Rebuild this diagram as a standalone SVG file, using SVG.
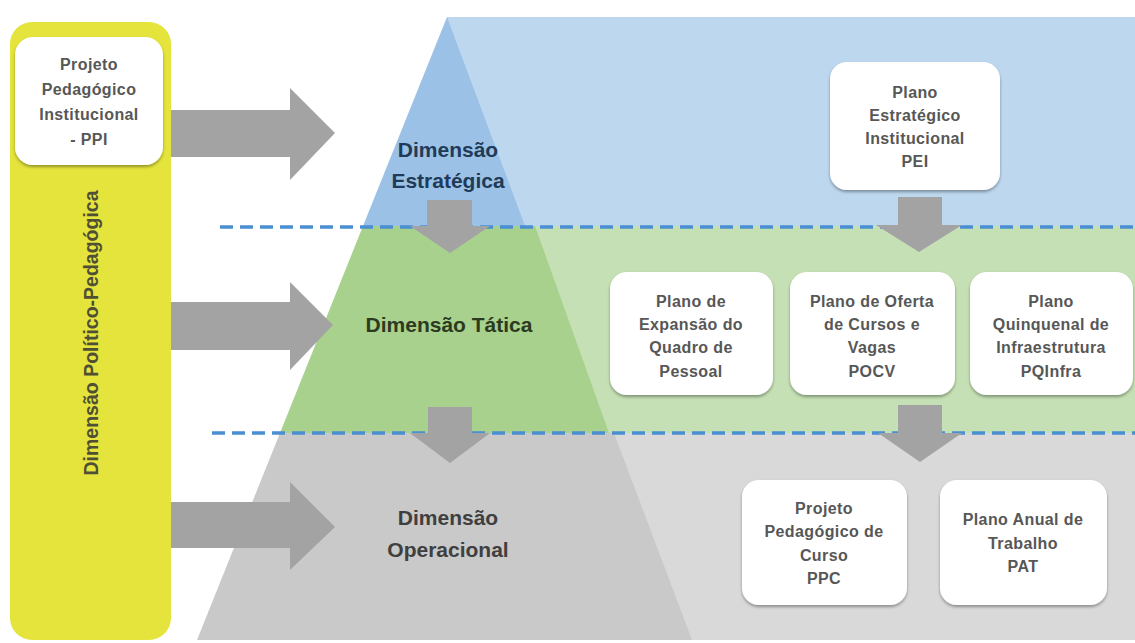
<svg xmlns="http://www.w3.org/2000/svg" width="1135" height="643" viewBox="0 0 1135 643">
  <defs>
    <filter id="sh" x="-10%" y="-10%" width="120%" height="125%">
      <feDropShadow dx="0" dy="2" stdDeviation="1.5" flood-color="#000" flood-opacity="0.35"/>
    </filter>
    <style>
      .box{fill:#ffffff;filter:url(#sh);}
      .bt{font-family:"Liberation Sans",Arial,sans-serif;font-weight:bold;font-size:16px;fill:#575757;text-anchor:middle;letter-spacing:0.4px;}
      .dim{font-family:"Liberation Sans",Arial,sans-serif;font-weight:bold;font-size:21px;text-anchor:middle;}
      .arr{fill:#a3a3a3;}
      .dash{stroke:#4a8fd2;stroke-width:3.5;stroke-dasharray:13 7;fill:none;}
    </style>
  </defs>
  <rect width="1135" height="643" fill="#ffffff"/>

  <g id="bands">
    <rect x="447" y="17" width="688" height="209" fill="#bdd7ee"/>
    <rect x="447" y="226" width="688" height="207" fill="#c5e0b4"/>
    <rect x="447" y="433" width="688" height="207" fill="#d9d9d9"/>
  </g>

  <g id="pyramid">
    <polygon points="447,17 525,226 363,226" fill="#9bc2e6"/>
    <polygon points="363,226 535,226 609,433 280,433" fill="#a9d18e"/>
    <polygon points="280,433 614,433 692,640 197,640" fill="#c9c9c9"/>
  </g>

  <g id="separators">
    <line class="dash" x1="220" y1="227" x2="1135" y2="227"/>
    <line class="dash" x1="212" y1="433" x2="1135" y2="433"/>
  </g>

  <g id="panel-politico-pedagogica">
    <rect x="10" y="22" width="161" height="618" rx="22" fill="#e4e43c"/>
    <text transform="translate(98,333) rotate(-90)" font-family="Liberation Sans, Arial, sans-serif" font-weight="bold" font-size="19.5" fill="#4f4f35" text-anchor="middle">Dimensão Político-Pedagógica</text>
  </g>

  <g id="node-ppi">
    <rect class="box" x="15" y="37" width="148" height="128" rx="18"/>
    <text class="bt" x="89" y="70">Projeto</text>
    <text class="bt" x="89" y="95">Pedagógico</text>
    <text class="bt" x="89" y="120">Institucional</text>
    <text class="bt" x="89" y="145">- PPI</text>
  </g>

  <g id="connectors">
    <polygon class="arr" points="171,110 290,110 290,88 335,133 290,180 290,157 171,157"/>
    <polygon class="arr" points="171,302 290,302 290,282 333,325 290,370 290,350 171,350"/>
    <polygon class="arr" points="171,502 290,502 290,482 335,527 290,570 290,548 171,548"/>
    <polygon class="arr" points="427,200 472,200 472,226 490,226 450,253 410,226 427,226"/>
    <polygon class="arr" points="428,407 472,407 472,433 490,433 450,463 410,433 428,433"/>
    <polygon class="arr" points="898,197 942,197 942,225 962,225 919,252 876,225 898,225"/>
    <polygon class="arr" points="898,405 942,405 942,433 962,433 920,462 878,433 898,433"/>
  </g>

  <g id="dim-estrategica">
    <text class="dim" x="448" y="157" fill="#213a57">Dimensão</text>
    <text class="dim" x="448" y="188" fill="#213a57">Estratégica</text>
  </g>
  <g id="dim-tatica">
    <text class="dim" x="449" y="332" fill="#2c3b20">Dimensão Tática</text>
  </g>
  <g id="dim-operacional">
    <text class="dim" x="448" y="525" fill="#3f3f3f">Dimensão</text>
    <text class="dim" x="448" y="557" fill="#3f3f3f">Operacional</text>
  </g>

  <g id="node-pei">
    <rect class="box" x="830" y="62" width="170" height="128" rx="17"/>
    <text class="bt" x="915" y="98">Plano</text>
    <text class="bt" x="915" y="121">Estratégico</text>
    <text class="bt" x="915" y="144">Institucional</text>
    <text class="bt" x="915" y="167">PEI</text>
  </g>

  <g id="node-expansao">
    <rect class="box" x="610" y="272" width="163" height="123" rx="17"/>
    <text class="bt" x="691" y="307">Plano de</text>
    <text class="bt" x="691" y="330">Expansão do</text>
    <text class="bt" x="691" y="353">Quadro de</text>
    <text class="bt" x="691" y="377">Pessoal</text>
  </g>

  <g id="node-pocv">
    <rect class="box" x="790" y="272" width="165" height="123" rx="17"/>
    <text class="bt" x="872" y="307">Plano de Oferta</text>
    <text class="bt" x="872" y="330">de Cursos e</text>
    <text class="bt" x="872" y="353">Vagas</text>
    <text class="bt" x="872" y="377">POCV</text>
  </g>

  <g id="node-pqinfra">
    <rect class="box" x="970" y="272" width="163" height="123" rx="17"/>
    <text class="bt" x="1051" y="307">Plano</text>
    <text class="bt" x="1051" y="330">Quinquenal de</text>
    <text class="bt" x="1051" y="353">Infraestrutura</text>
    <text class="bt" x="1051" y="377">PQInfra</text>
  </g>

  <g id="node-ppc">
    <rect class="box" x="742" y="480" width="165" height="125" rx="17"/>
    <text class="bt" x="824" y="514">Projeto</text>
    <text class="bt" x="824" y="537">Pedagógico de</text>
    <text class="bt" x="824" y="561">Curso</text>
    <text class="bt" x="824" y="584">PPC</text>
  </g>

  <g id="node-pat">
    <rect class="box" x="940" y="480" width="167" height="125" rx="17"/>
    <text class="bt" x="1023" y="525">Plano Anual de</text>
    <text class="bt" x="1023" y="549">Trabalho</text>
    <text class="bt" x="1023" y="572">PAT</text>
  </g>
</svg>
